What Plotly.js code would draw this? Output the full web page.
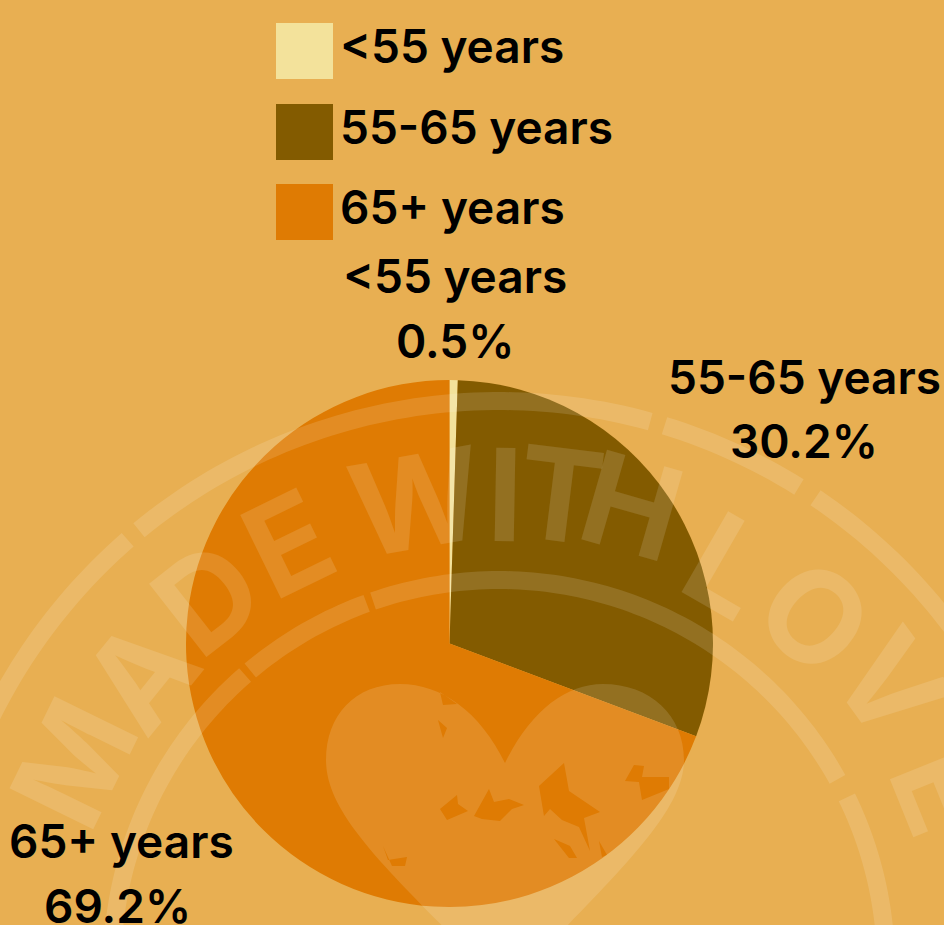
<!DOCTYPE html>
<html><head><meta charset="utf-8"><script src="https://cdn.plot.ly/plotly-3.0.1.min.js"></script>
<style>html,body{margin:0;padding:0;background:#E8AF52}</style></head>
<body><div id="c" style="width:944px;height:925px"></div>
<script>
const categories=['<55 years','55-65 years','65+ years'];
const values=[0.5,30.2,69.2];
const colors=['#F3E29B','#835B00','#DF7B03'];
const W=944,H=925,bg='#E8AF52',veil='rgba(255,255,255,0.13)';
const px=x=>x/W, py=y=>1-y/H;
const pathOf=p=>p.map((q,i)=>(i?'L':'M')+px(q[0]).toFixed(5)+','+py(q[1]).toFixed(5)).join(' ')+' Z';
const shapes=[],annotations=[];

// watermark rings
const ringC=[499,967];
function arc(r,a0,a1){
  const pts=[];
  for(let a=a0;a<=a1+1e-6;a+=1){
    const t=Math.min(a,a1)*Math.PI/180;
    pts.push(px(ringC[0]+r*Math.sin(t)).toFixed(5)+','+py(ringC[1]-r*Math.cos(t)).toFixed(5));
  }
  shapes.push({type:'path',xref:'paper',yref:'paper',layer:'above',path:'M'+pts.join(' L'),line:{color:veil,width:18},fillcolor:'rgba(0,0,0,0)'});
}
[[-95,-40.5],[-39.5,16],[17,32.5],[34,95]].forEach(s=>arc(566,s[0],s[1]));
[[-95,-41],[-40,-19.5],[-19,61.5],[64,95]].forEach(s=>arc(387,s[0],s[1]));

// watermark heart, with its worn patches as holes
const c=(x1,y1,x2,y2,x,y)=>`C${px(x1)},${py(y1)} ${px(x2)},${py(y2)} ${px(x)},${py(y)}`;
const heart=`M${px(505)},${py(763)} `+c(480,712,442,684,400,684)+' '+c(355,684,326,715,326,760)+' '+c(326,820,400,880,505,990)+' '+c(610,880,684,815,684,760)+' '+c(684,715,650,684,603,684)+' '+c(565,684,530,712,505,763)+' Z';
const holes=[
 [[474,816],[489,789],[494,802],[509,799],[524,805],[512,809],[500,821],[482,819]],
 [[440,809],[457,795],[458,804],[468,811],[447,820]],
 [[539,786],[564,763],[569,791],[600,812],[584,818],[590,851],[579,827],[562,820],[550,809],[544,816]],
 [[625,781],[634,765],[644,766],[642,777],[669,777],[669,789],[642,800],[639,782]],
 [[554,839],[570,846],[577,858],[569,858]],
 [[383,846],[388,860],[407,857],[405,866],[392,866]],
 [[440,692],[457,704],[443,705]],
 [[438,720],[447,728],[443,738]],
 [[599,841],[607,855],[602,857]]
];
shapes.push({type:'path',xref:'paper',yref:'paper',layer:'above',path:heart+' '+holes.map(pathOf).join(' '),fillcolor:veil,line:{width:0}});

// legend
const legendY=[51,132,212];
categories.forEach((t,i)=>{
 shapes.push({type:'rect',xref:'paper',yref:'paper',x0:px(276),x1:px(333),y0:py(legendY[i]+28),y1:py(legendY[i]-28),fillcolor:colors[i],line:{width:0}});
 annotations.push({xref:'paper',yref:'paper',x:px(338),y:py(legendY[i]-5),xanchor:'left',yanchor:'middle',showarrow:false,text:t.replace('<','&lt;'),font:{family:'Inter, Roboto',size:46,color:'#000',weight:600}});
});

// slice labels
const labelPos=[[455,276,455,341],[804,377,804,441],[122,841,117,906]];
categories.forEach((t,i)=>{
 const p=labelPos[i];
 annotations.push({xref:'paper',yref:'paper',x:px(p[0]),y:py(p[1]),xanchor:'center',yanchor:'middle',showarrow:false,text:t.replace('<','&lt;'),font:{family:'Inter, Roboto',size:46,color:'#000',weight:600}});
 annotations.push({xref:'paper',yref:'paper',x:px(p[2]),y:py(p[3]),xanchor:'center',yanchor:'middle',showarrow:false,text:values[i].toFixed(1)+'%',font:{family:'Inter, Roboto',size:46,color:'#000',weight:600}});
});

// watermark lettering
const stamp=[['M',73,763,-64],['A',140,674,-51],['D',207,597,-38],['E',288,543,-26],['W',416,501,-10],['I',505,494,1],['T',560,494,7],['H',632,506,16],['L',729,565,30],['O',815,616,42],['V',892,685,54],['E',945,790,68]];
stamp.forEach(s=>annotations.push({xref:'paper',yref:'paper',x:px(s[1]),y:py(s[2]),xanchor:'center',yanchor:'middle',showarrow:false,text:s[0],textangle:s[3],font:{family:'Inter, Roboto',size:128,color:veil,weight:700}}));

const trace={type:'pie',labels:categories,values:values,sort:false,direction:'clockwise',rotation:0,textinfo:'none',hoverinfo:'label+percent',marker:{colors:colors,line:{width:0}},domain:{x:[186/W,713/W],y:[1-907/H,1-380/H]}};
const layout={width:W,height:H,paper_bgcolor:bg,plot_bgcolor:bg,showlegend:false,margin:{l:0,r:0,t:0,b:0},shapes:shapes,annotations:annotations};
Plotly.newPlot('c',[trace],layout,{displayModeBar:false});
</script></body></html>
